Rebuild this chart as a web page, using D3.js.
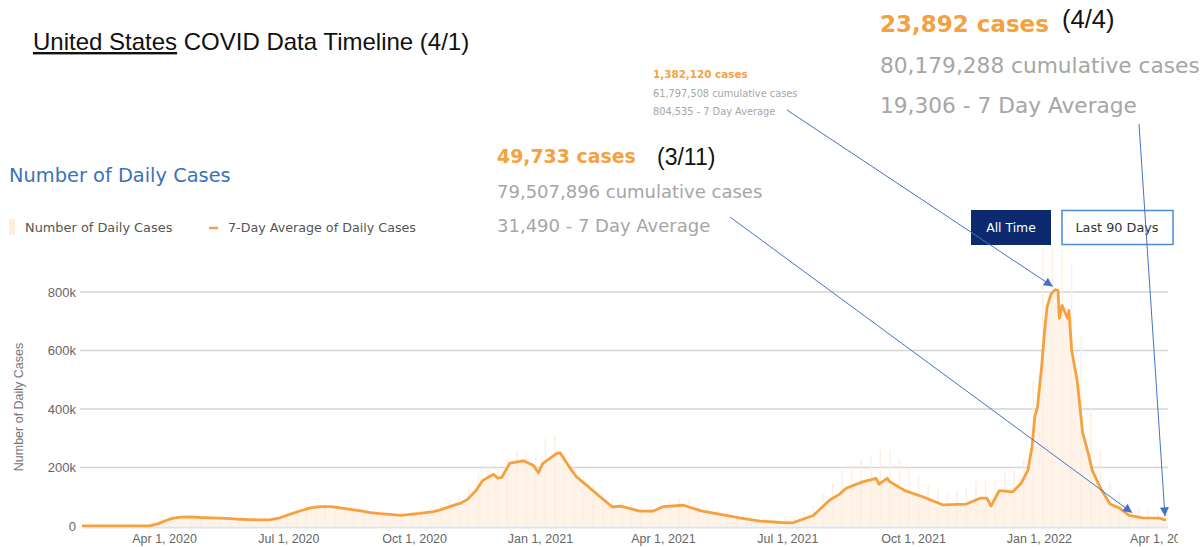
<!DOCTYPE html>
<html>
<head>
<meta charset="utf-8">
<script src="https://cdn.jsdelivr.net/npm/d3@7"></script>
<style>
  body { margin: 0; background: #fff; }
  svg { display: block; }
</style>
</head>
<body>
<div id="chart"></div>
<script>
// 7-day average of daily cases, thousands
const avgDates = [
  '2020-02-01','2020-03-15','2020-03-22','2020-03-28','2020-04-02','2020-04-07','2020-04-13','2020-04-20',
  '2020-04-28','2020-05-05','2020-05-12','2020-05-20','2020-05-27','2020-06-03','2020-06-10','2020-06-18',
  '2020-06-25','2020-07-02','2020-07-10','2020-07-17','2020-07-24','2020-08-01','2020-08-08','2020-08-15',
  '2020-08-23','2020-08-30','2020-09-06','2020-09-13','2020-09-21','2020-09-28','2020-10-05','2020-10-15',
  '2020-10-20','2020-10-27','2020-11-04','2020-11-09','2020-11-15','2020-11-20','2020-11-28','2020-12-01',
  '2020-12-04','2020-12-10','2020-12-20','2020-12-27','2020-12-31','2021-01-03','2021-01-10','2021-01-14',
  '2021-01-16','2021-01-23','2021-01-28','2021-02-04','2021-02-14','2021-02-23','2021-03-01','2021-03-15',
  '2021-03-25','2021-04-01','2021-04-16','2021-04-29','2021-05-13','2021-05-28','2021-06-11','2021-06-26',
  '2021-07-05','2021-07-20','2021-08-01','2021-08-08','2021-08-13','2021-08-25','2021-09-04','2021-09-06',
  '2021-09-12','2021-09-14','2021-09-25','2021-10-08','2021-10-23','2021-11-09','2021-11-19','2021-11-24',
  '2021-11-27','2021-12-03','2021-12-13','2021-12-19','2021-12-24','2021-12-27','2021-12-29','2021-12-31',
  '2022-01-03','2022-01-05','2022-01-07','2022-01-10','2022-01-13','2022-01-15','2022-01-16','2022-01-18',
  '2022-01-22','2022-01-23','2022-01-25','2022-01-29','2022-02-02','2022-02-06','2022-02-09','2022-02-15',
  '2022-02-22','2022-03-01','2022-03-08','2022-03-18','2022-03-30','2022-04-04'
]
const avgCases = [
  0, 0, 1, 8, 18, 26, 30, 31,
  29, 28, 27, 25, 23, 22, 21, 22,
  28, 40, 52, 62, 66, 66, 62, 57,
  52, 46, 42, 40, 36, 40, 43, 49,
  55, 66, 78, 91, 120, 155, 177, 164,
  166, 215, 223, 208, 182, 213, 237, 250,
  249, 198, 167, 140, 100, 65, 68, 51,
  51, 66, 71, 52, 40, 27, 17, 12,
  11, 36, 89, 108, 129, 151, 163, 143,
  163, 151, 121, 100, 72, 75, 95, 95,
  68, 121, 117, 146, 191, 271, 373, 407,
  544, 658, 749, 794, 808, 805, 710, 754,
  710, 737, 600, 498, 320, 250, 191, 130,
  75, 61, 36, 28, 27, 20
]

// highest single day of each week, thousands, weeks from Feb 1, 2020
const firstWeek = '2020-02-01'
const weekHigh = [
  0, 0, 0, 0, 0, 0.5, 3, 12, 25, 36,
  38, 37, 36, 33, 30, 28, 26, 26, 25, 27,
  33, 48, 58, 72, 76, 78, 72, 66, 62, 55,
  52, 48, 45, 50, 52, 55, 62, 72, 88, 105,
  130, 180, 205, 200, 235, 255, 250, 235, 300, 310,
  250, 200, 170, 140, 110, 90, 85, 75, 68, 70,
  80, 85, 95, 90, 75, 62, 55, 45, 38, 30,
  26, 28, 22, 28, 30, 50, 70, 110, 150, 190,
  210, 230, 240, 260, 255, 230, 200, 170, 140, 125,
  110, 120, 130, 155, 160, 155, 185, 190, 230, 500,
  1050, 1380, 1100, 900, 650, 400, 260, 150, 110, 80,
  60, 55, 50, 45
]

const yTicks = [0, 200, 400, 600, 800]
const xTicks = ['2020-04-01','2020-07-01','2020-10-01','2021-01-01','2021-04-01',
  '2021-07-01','2021-10-01','2022-01-01','2022-04-01']

const width = 1204,
      height = 547,
      plot = { left: 82, right: 1168, top: 248, bottom: 527 },
      orange = '#f6a13f',
      grey = '#a6a6a6',
      arrowBlue = '#4472c4',
      arial = 'Liberation Sans, Arial, sans-serif',
      site = 'DejaVu Sans, sans-serif'

const parse = d3.timeParse('%Y-%m-%d')
const line = avgDates.map((d, i) => ({ date: parse(d), v: avgCases[i] }))
const weeks = weekHigh.map((v, i) => ({ date: d3.timeDay.offset(parse(firstWeek), i * 7 + 3), v: v }))

const svg = d3.select('#chart').append('svg')
  .attr('width', width)
  .attr('height', height)
  .style('font-family', arial)

const defs = svg.append('defs')
defs.append('clipPath').attr('id', 'plotClip')
  .append('rect')
  .attr('x', plot.left).attr('y', plot.top)
  .attr('width', plot.right - plot.left).attr('height', plot.bottom - plot.top)
// the axis group is translated, so this rect is in its own coords
defs.append('clipPath').attr('id', 'axisClip')
  .append('rect')
  .attr('x', 0).attr('y', -2).attr('width', 1178).attr('height', 24)
defs.append('marker')
  .attr('id', 'arrow')
  .attr('viewBox', '0 0 10 10')
  .attr('refX', 10).attr('refY', 5)
  .attr('markerWidth', 11).attr('markerHeight', 9)
  .attr('markerUnits', 'userSpaceOnUse')
  .attr('orient', 'auto')
  .append('path')
  .attr('d', 'M0,0L10,5L0,10Z')
  .attr('fill', arrowBlue)

// scales
const x = d3.scaleTime()
  .domain([parse('2020-02-01'), parse('2022-04-04')])
  .range([plot.left, 1166])
const y = d3.scaleLinear()
  .domain([0, 800])
  .range([526, 292])

// gridlines
svg.append('g')
  .selectAll('line')
  .data(yTicks.filter(d => d > 0))
  .join('line')
  .attr('x1', 80).attr('x2', plot.right)
  .attr('y1', d => y(d)).attr('y2', d => y(d))
  .attr('stroke', '#d5d5d5')
  .attr('stroke-width', 1.6)

// baseline
svg.append('line')
  .attr('x1', plot.left).attr('x2', plot.right)
  .attr('y1', plot.bottom + 0.5).attr('y2', plot.bottom + 0.5)
  .attr('stroke', '#e3e3e3')
  .attr('stroke-width', 2)

// y axis
const yAxis = d3.axisLeft(y)
  .tickValues(yTicks)
  .tickSize(0)
  .tickPadding(0)
  .tickFormat(d => d === 0 ? '0' : d + 'k')
svg.append('g')
  .attr('transform', 'translate(76,0)')
  .call(yAxis)
  .call(g => g.select('.domain').remove())
  .selectAll('text')
  .attr('fill', '#666')
  .style('font-size', '13px')
  .style('font-family', arial)

svg.append('text')
  .attr('transform', `translate(23, ${y(400) - 2}) rotate(-90)`)
  .attr('text-anchor', 'middle')
  .attr('fill', '#777')
  .style('font-size', '12.5px')
  .text('Number of Daily Cases')

// x axis
const xAxis = d3.axisBottom(x)
  .tickValues(xTicks.map(parse))
  .tickSize(0)
  .tickPadding(7)
  .tickFormat(d3.timeFormat('%b %-d, %Y'))
svg.append('g')
  .attr('transform', `translate(0, ${plot.bottom})`)
  .attr('clip-path', 'url(#axisClip)')
  .call(xAxis)
  .call(g => g.select('.domain').remove())
  .selectAll('text')
  .attr('fill', '#666')
  .style('font-size', '12.5px')
  .style('font-family', arial)

// daily bars + area
const chartArea = svg.append('g').attr('clip-path', 'url(#plotClip)')

chartArea.append('path')
  .datum(line)
  .attr('fill', '#fdf3e8')
  .attr('d', d3.area().x(d => x(d.date)).y0(y(0)).y1(d => y(d.v)))

chartArea.selectAll('.bar')
  .data(weeks)
  .join('rect')
  .attr('class', 'bar')
  .attr('x', d => x(d.date) - 0.7)
  .attr('width', 1.4)
  .attr('y', d => y(d.v))
  .attr('height', d => y(0) - y(d.v))
  .attr('fill', '#fdeedf')

chartArea.append('path')
  .datum(line)
  .attr('fill', 'none')
  .attr('stroke', orange)
  .attr('stroke-width', 2.8)
  .attr('stroke-linejoin', 'round')
  .attr('d', d3.line().x(d => x(d.date)).y(d => y(d.v)))

// titles
const title = svg.append('text')
  .attr('x', 33).attr('y', 50)
  .style('font-size', '24px')
  .attr('fill', '#111')
title.append('tspan').attr('text-decoration', 'underline').text('United States')
title.append('tspan').text(' COVID Data Timeline (4/1)')

svg.append('text')
  .attr('x', 9).attr('y', 182)
  .attr('fill', '#3a73b8')
  .style('font-family', site)
  .style('font-size', '19.4px')
  .text('Number of Daily Cases')

// legend
svg.append('rect')
  .attr('x', 9).attr('y', 219).attr('width', 6).attr('height', 16)
  .attr('fill', '#fdeedd')
svg.append('text')
  .attr('x', 25).attr('y', 232)
  .attr('fill', '#555')
  .style('font-family', site)
  .style('font-size', '12.9px')
  .text('Number of Daily Cases')
svg.append('line')
  .attr('x1', 209).attr('x2', 218).attr('y1', 228).attr('y2', 228)
  .attr('stroke', orange).attr('stroke-width', 2.5)
svg.append('text')
  .attr('x', 228).attr('y', 232)
  .attr('fill', '#555')
  .style('font-family', site)
  .style('font-size', '12.7px')
  .text('7-Day Average of Daily Cases')

// buttons
svg.append('rect')
  .attr('x', 971).attr('y', 210).attr('width', 80).attr('height', 35)
  .attr('fill', '#0c2a6d')
svg.append('text')
  .attr('x', 1011).attr('y', 232)
  .attr('text-anchor', 'middle')
  .attr('fill', '#fff')
  .style('font-family', site)
  .style('font-size', '12.4px')
  .text('All Time')
svg.append('rect')
  .attr('x', 1062).attr('y', 210.5).attr('width', 111).attr('height', 34)
  .attr('fill', '#fff')
  .attr('stroke', '#4a8bd3')
  .attr('stroke-width', 1.5)
svg.append('text')
  .attr('x', 1117).attr('y', 232)
  .attr('text-anchor', 'middle')
  .attr('fill', '#333')
  .style('font-family', site)
  .style('font-size', '12.8px')
  .text('Last 90 Days')

// callouts
const callouts = [
  { x: 880, y: 32, size: [23, 21.7], gap: 40.5, lines: ['23,892 cases', '80,179,288 cumulative cases', '19,306 - 7 Day Average'],
    tag: '(4/4)', tagX: 1062, tagY: 28, tagSize: 25.5 },
  { x: 497, y: 163, size: [18.9, 18], gap: 34.5, lines: ['49,733 cases', '79,507,896 cumulative cases', '31,490 - 7 Day Average'],
    tag: '(3/11)', tagX: 657, tagY: 165, tagSize: 23 },
  { x: 653, y: 78, size: [10.4, 9.8], gap: 18.5, lines: ['1,382,120 cases', '61,797,508 cumulative cases', '804,535 - 7 Day Average'] }
]
callouts.forEach(c => {
  c.lines.forEach((t, i) => {
    svg.append('text')
      .attr('x', c.x).attr('y', c.y + i * c.gap)
      .attr('fill', i === 0 ? orange : grey)
      .style('font-family', site)
      .style('font-weight', i === 0 ? 700 : 400)
      .style('font-size', (i === 0 ? c.size[0] : c.size[1]) + 'px')
      .text(t)
  })
  if (c.tag) {
    svg.append('text')
      .attr('x', c.tagX).attr('y', c.tagY)
      .attr('fill', '#111')
      .style('font-size', c.tagSize + 'px')
      .text(c.tag)
  }
})

// arrows to the points
const arrows = [
  { from: [787, 110], date: '2022-01-12', v: 805 },
  { from: [730, 217], date: '2022-03-11', v: 31.5 },
  { from: [1139, 124], date: '2022-04-04', v: 19.3 }
]
svg.append('g')
  .selectAll('line')
  .data(arrows)
  .join('line')
  .attr('x1', d => d.from[0]).attr('y1', d => d.from[1])
  .attr('x2', d => x(parse(d.date)) - 1).attr('y2', d => y(d.v) - 4)
  .attr('stroke', arrowBlue)
  .attr('stroke-width', 1)
  .attr('marker-end', 'url(#arrow)')
</script>
</body>
</html>
